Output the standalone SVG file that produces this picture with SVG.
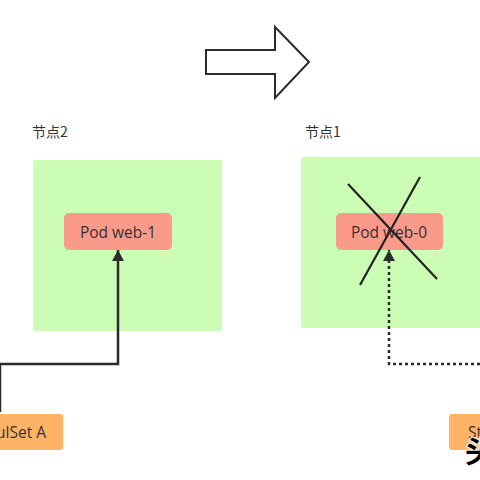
<svg xmlns="http://www.w3.org/2000/svg" width="480" height="480" viewBox="0 0 480 480">
<defs>
<style>
.node{fill:#ccfdb4;}
.pod{fill:#fa9a8b;}
.sts{fill:#fdb467;}
.lbl{font-family:"Open Sans","Noto Sans","Noto Sans CJK SC",sans-serif;font-size:15.5px;fill:#3a2f2f;}
.cap{font-family:"Noto Sans CJK SC","Noto Sans",sans-serif;font-size:14px;fill:#333;}
.conn{fill:none;stroke:#2b2b2b;stroke-width:2.5;}
</style>
<marker id="ah" viewBox="0 0 11 18" refX="11" refY="9" markerWidth="11" markerHeight="18" markerUnits="userSpaceOnUse" orient="auto">
<path d="M0,3 L11,9 L0,15 Z" fill="#2b2b2b"/>
</marker>
</defs>
<rect width="480" height="480" fill="#fff"/>
<g id="bigArrow">
<polygon points="206,50 275,50 275,27 309,62 275,98 275,74 206,74" fill="#fff" stroke="#2b2b2b" stroke-width="2"/>
</g>
<g id="node2">
<text class="cap" x="32" y="137">节点2</text>
<rect class="node" x="33" y="160" width="189" height="171" rx="2"/>
</g>
<g id="node1">
<text class="cap" x="305" y="137">节点1</text>
<rect class="node" x="301" y="157" width="185" height="171" rx="2"/>
</g>
<g id="podWeb1">
<rect class="pod" x="64" y="213" width="108" height="37" rx="5"/>
<text class="lbl" x="118" y="238" text-anchor="middle">Pod web-1</text>
</g>
<g id="podWeb0">
<rect class="pod" x="336" y="213" width="107" height="37" rx="5"/>
<text class="lbl" x="389" y="238" text-anchor="middle">Pod web-0</text>
</g>
<g id="stsA">
<rect class="sts" x="-60" y="414" width="123" height="36" rx="3"/>
<text class="lbl" x="0" y="438" text-anchor="middle">StatefulSet A</text>
</g>
<g id="stsB">
<rect class="sts" x="449" y="414" width="123" height="36" rx="3"/>
<text class="lbl" x="468" y="438">StatefulSet A</text>
</g>
<g id="connectors">
<polyline class="conn" points="0,412 0,364 118,364 118,250" marker-end="url(#ah)"/>
<polyline class="conn" points="480,364 389,364 389,250" stroke-dasharray="3,3" marker-end="url(#ah)"/>
<line x1="348" y1="184" x2="437" y2="279" stroke="#222" stroke-width="2.2"/>
<line x1="420" y1="177" x2="360" y2="285" stroke="#222" stroke-width="2.2"/>
</g>
<text x="465" y="462" font-family="Noto Sans CJK SC,sans-serif" font-size="30" font-weight="bold" fill="#000" stroke="#fff" stroke-width="2" paint-order="stroke">头</text>
</svg>
